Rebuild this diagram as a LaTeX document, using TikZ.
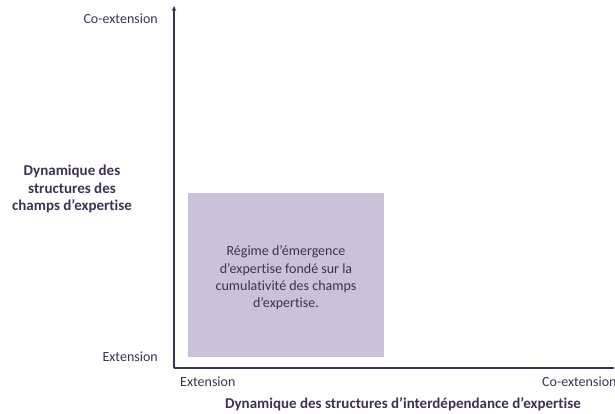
\documentclass[tikz,border=0pt]{standalone}
\usepackage{fontspec}
\setmainfont{Carlito}[Ligatures=NoCommon]
\usetikzlibrary{arrows.meta}
\definecolor{plum}{HTML}{3F3151}
\definecolor{lilac}{HTML}{CCC1DA}

\begin{document}
\begin{tikzpicture}[x=1pt,y=-1pt,font=\fontsize{14}{17}\selectfont,text=plum,
  axis/.style={draw=plum,line width=1.6pt},
  lbl/.style={inner sep=0pt},
  title/.style={lbl,font=\fontsize{15}{17.5}\selectfont\bfseries,align=center},
  regime/.style={fill=lilac,minimum width=196pt,minimum height=164pt,inner sep=0pt},
  regimetext/.style={lbl,align=center,font=\fontsize{14}{17.3}\selectfont}]
  \useasboundingbox (0,0) rectangle (615,414);
  \coordinate (o)    at (174,368);
  \coordinate (ytop) at (174,6);
  \coordinate (xend) at (614,368);
  \node[regime] (cum) at (286,275) {};
  \node[regimetext] (cumtxt) at ([yshift=-3pt]cum.center) {R\'egime d’\'emergence\\d’expertise fond\'e sur la\\cumulativit\'e des champs\\d’expertise.};
  \draw[axis,-{Stealth[length=5pt,width=4.5pt]}] (o) -- (ytop);
  \draw[axis] (o) -- (xend);
  \node[lbl,anchor=east] (yhi) at (158,19) {Co-extension};
  \node[lbl,anchor=east] (ylo) at (158,357) {Extension};
  \node[lbl,anchor=west] (xlo) at (180,382) {Extension};
  \node[lbl,anchor=west] (xhi) at (542,382) {Co-extension};
  \node[title] (ytitle) at (72,189) {Dynamique des\\structures des\\champs d’expertise};
  \node[title] (xtitle) at (403,404) {Dynamique des structures d’interd\'ependance d’expertise};
\end{tikzpicture}
\end{document}
